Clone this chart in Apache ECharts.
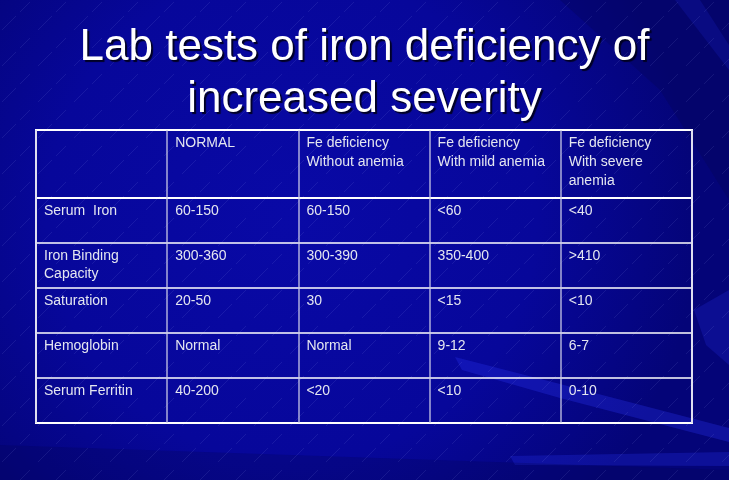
<!DOCTYPE html>
<html>
<head>
<meta charset="utf-8">
<script src="https://cdn.jsdelivr.net/npm/echarts@6/dist/echarts.min.js"></script>
<style>
  html, body { margin: 0; padding: 0; background: #07079a; }
  #chart { width: 729px; height: 480px; }
</style>
</head>
<body>
<div id="chart"></div>
<script>
// ---- data ----
const titleText = 'Lab tests of iron deficiency of\nincreased severity';
const columnHeaders = ['', 'NORMAL', 'Fe deficiency\nWithout anemia', 'Fe deficiency\nWith mild anemia', 'Fe deficiency\nWith severe\nanemia'];
const tests = ['Serum  Iron', 'Iron Binding\nCapacity', 'Saturation', 'Hemoglobin', 'Serum Ferritin'];
const normal = ['60-150', '300-360', '20-50', 'Normal', '40-200'];
const withoutAnemia = ['60-150', '300-390', '30', 'Normal', '<20'];
const mildAnemia = ['<60', '350-400', '<15', '9-12', '<10'];
const severeAnemia = ['<40', '>410', '<10', '6-7', '0-10'];

// ---- build cells ----
const columnsData = [tests, normal, withoutAnemia, mildAnemia, severeAnemia];
const colKeys = columnHeaders.map((_, i) => 'c' + i);
const rowKeys = tests.map((_, i) => 'r' + i);

const headerCells = columnHeaders.map((t, c) => ({ value: [c, 0], text: t }));
const bodyCells = [];
columnsData.forEach((col, c) => col.forEach((t, r) => bodyCells.push({ value: [c, r], text: t })));

const TEXT_COLOR = '#e4e6f0';
const FONT = '"Liberation Sans", Arial, sans-serif';

function makeRender(cells, lineHeight, padTop) {
  return function (params, api) {
    const c = api.value(0), r = api.value(1);
    const center = api.coord([c, r]);
    const size = api.size([1, 1], [c, r]);
    const left = center[0] - size[0] / 2;
    const top = center[1] - size[1] / 2;
    return {
      type: 'text',
      x: left + 8,
      y: top + padTop,
      style: {
        text: cells[params.dataIndex].text,
        fill: TEXT_COLOR,
        fontSize: 14,
        fontFamily: FONT,
        lineHeight: lineHeight,
        align: 'left',
        verticalAlign: 'top'
      }
    };
  };
}

// faint diagonal hatch texture for the slide background
const hatch = document.createElement('canvas');
hatch.width = 36; hatch.height = 36;
(function () {
  const g = hatch.getContext('2d');
  g.strokeStyle = 'rgba(170,180,255,0.10)';
  g.lineWidth = 1;
  g.beginPath(); g.moveTo(2, 30); g.lineTo(16, 16); g.stroke();
  g.beginPath(); g.moveTo(20, 12); g.lineTo(30, 2); g.stroke();
})();

const chart = echarts.init(document.getElementById('chart'), null, { renderer: 'canvas' });

const bg = [
  { type: 'rect', z: -10, shape: { x: 0, y: 0, width: 729, height: 480 },
    style: { fill: new echarts.graphic.RadialGradient(0.4, 0.45, 0.85, [
      { offset: 0, color: '#0909a6' }, { offset: 0.6, color: '#07079a' }, { offset: 1, color: '#040478' }]) } },
  // top-right slightly darker corner
  { type: 'polygon', z: -9, shape: { points: [[560, 0], [729, 0], [729, 200], [660, 90]] }, style: { fill: 'rgba(3,3,70,0.25)' } },
  { type: 'polygon', z: -9, shape: { points: [[675, 0], [700, 0], [729, 45], [729, 70]] }, style: { fill: 'rgba(30,40,220,0.2)' } },
  // diagonal light band lower right
  { type: 'polygon', z: -9, shape: { points: [[455, 357], [560, 384], [729, 428], [729, 442], [560, 398], [462, 370]] }, style: { fill: 'rgba(40,50,235,0.32)' } },
  { type: 'polygon', z: -9, shape: { points: [[694, 310], [729, 290], [729, 365], [706, 345]] }, style: { fill: 'rgba(35,45,225,0.25)' } },
  // bottom horizontal streaks
  { type: 'polygon', z: -9, shape: { points: [[510, 456], [729, 452], [729, 466], [515, 465]] }, style: { fill: 'rgba(35,45,230,0.3)' } },
  { type: 'polygon', z: -9, shape: { points: [[0, 445], [729, 470], [729, 480], [0, 480]] }, style: { fill: 'rgba(3,3,80,0.25)' } },
  // texture
  { type: 'rect', z: -8, shape: { x: 0, y: 0, width: 729, height: 480 },
    style: { fill: { image: hatch, repeat: 'repeat' } } }
];

const option = {
  backgroundColor: '#07079a',
  animation: false,
  graphic: bg,
  title: {
    text: titleText,
    left: 'center',
    top: 22,
    padding: 0,
    textStyle: {
      color: '#ffffff',
      fontSize: 44,
      fontWeight: 'normal',
      fontFamily: FONT,
      lineHeight: 52,
      textShadowColor: 'rgba(0,0,30,0.95)',
      textShadowOffsetX: 2,
      textShadowOffsetY: 2,
      textShadowBlur: 1
    }
  },
  grid: [
    { left: 36, top: 130, width: 656, height: 68, show: true, borderColor: '#ffffff', borderWidth: 2, backgroundColor: 'transparent' },
    { left: 36, top: 198, width: 656, height: 225, show: true, borderColor: '#ffffff', borderWidth: 2, backgroundColor: 'transparent' }
  ],
  xAxis: [
    { type: 'category', gridIndex: 0, data: colKeys, boundaryGap: true,
      axisLine: { show: false }, axisTick: { show: false }, axisLabel: { show: false },
      splitLine: { show: true, interval: 0, lineStyle: { color: 'rgba(205,205,230,0.85)', width: 1.5 } } },
    { type: 'category', gridIndex: 1, data: colKeys, boundaryGap: true,
      axisLine: { show: false }, axisTick: { show: false }, axisLabel: { show: false },
      splitLine: { show: true, interval: 0, lineStyle: { color: 'rgba(205,205,230,0.85)', width: 1.5 } } }
  ],
  yAxis: [
    { type: 'category', gridIndex: 0, data: ['h'], inverse: true,
      axisLine: { show: false }, axisTick: { show: false }, axisLabel: { show: false }, splitLine: { show: false } },
    { type: 'category', gridIndex: 1, data: rowKeys, inverse: true,
      axisLine: { show: false }, axisTick: { show: false }, axisLabel: { show: false },
      splitLine: { show: true, interval: 0, lineStyle: { color: '#ffffff', width: 1.5 } } }
  ],
  series: [
    { type: 'custom', xAxisIndex: 0, yAxisIndex: 0, data: headerCells, renderItem: makeRender(headerCells, 19, 4), silent: true },
    { type: 'custom', xAxisIndex: 1, yAxisIndex: 1, data: bodyCells, renderItem: makeRender(bodyCells, 17.5, 4.5), silent: true }
  ]
};

chart.setOption(option);
</script>
</body>
</html>
